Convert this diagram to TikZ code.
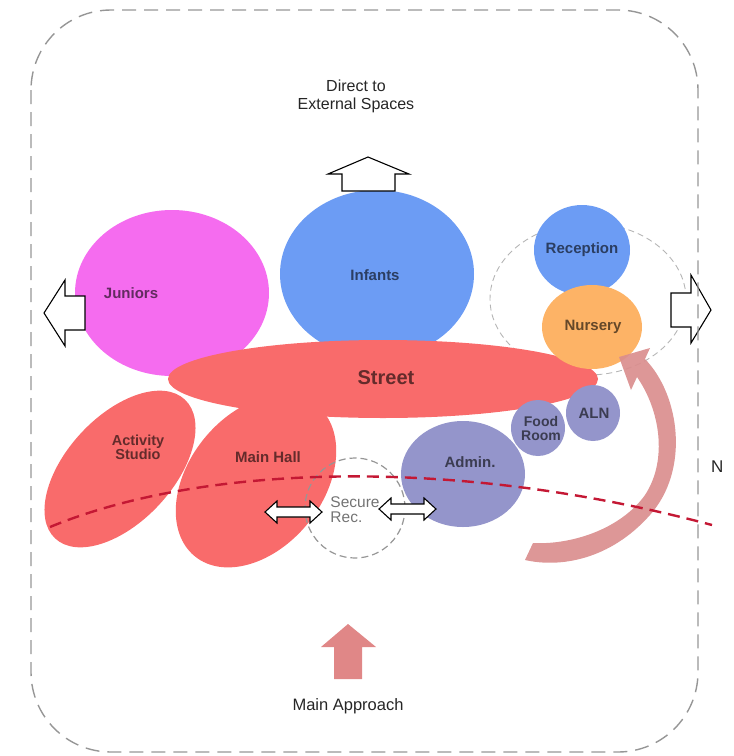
\documentclass[tikz,border=0pt]{standalone}
\usepackage{fontspec}
\setmainfont{Liberation Sans}
\usetikzlibrary{shapes.geometric}
\definecolor{cJun}{RGB}{245,108,239}
\definecolor{cInf}{RGB}{108,156,244}
\definecolor{cNur}{RGB}{253,179,102}
\definecolor{cRed}{RGB}{249,107,107}
\definecolor{cAdm}{RGB}{148,149,203}
\definecolor{cCres}{RGB}{218,142,142}
\definecolor{cAppr}{RGB}{224,135,135}
\definecolor{cDash}{RGB}{196,24,52}
\definecolor{cGray}{RGB}{150,150,150}
\begin{document}
\begin{tikzpicture}[x=1pt,y=-1pt,
  bubble/.style={ellipse, inner sep=0pt, draw=none},
  lbl/.style={font=\fontsize{15}{15}\selectfont\bfseries, align=center, inner sep=0pt},
  plain/.style={font=\fontsize{16}{18}\selectfont, align=center, inner sep=0pt, text=black!85},
  outline/.style={draw=black, fill=white, line width=1.1pt, line join=miter},
  ring/.style={draw=cGray, line width=1.2pt, dash pattern=on 7pt off 4pt},
]
\useasboundingbox (0,0) rectangle (734,756);

% bubbles
\node[bubble, fill=cJun, minimum width=194pt, minimum height=166pt] (jun) at (172,293) {};
\node[bubble, fill=cInf, minimum width=194pt, minimum height=168pt] (inf) at (377,274) {};
\node[ellipse, inner sep=0pt, draw=cGray!70, line width=0.9pt, dash pattern=on 6pt off 4pt,
      minimum width=196pt, minimum height=152pt] (nring) at (588,299) {};
\node[bubble, fill=cInf, minimum width=96pt, minimum height=90pt] (rec) at (582,250) {};
\node[bubble, fill=cRed, minimum width=430pt, minimum height=78pt] (str) at (383,379) {};
\node[bubble, fill=cNur, minimum width=100pt, minimum height=84pt] (nur) at (592,327) {};
\node[bubble, fill=cRed, minimum width=190pt, minimum height=106pt, rotate=47] (act) at (120,469) {};
\node[bubble, fill=cRed, minimum width=194pt, minimum height=134pt, rotate=51] (hall) at (256,481) {};
\node[bubble, fill=cAdm, minimum width=124pt, minimum height=106pt] (adm) at (463,474) {};
\node[bubble, fill=cAdm, minimum width=54pt, minimum height=56pt] (food) at (538,428) {};
\node[bubble, fill=cAdm, minimum width=54pt, minimum height=56pt] (aln) at (593,413) {};
\node[circle, inner sep=0pt, ring, minimum size=100pt] (sec) at (355,508) {};

% curved approach arrow
\fill[cCres, opacity=0.92] (619,357) -- (650,348) -- (645,359)
  .. controls (680,395) and (690,470) .. (650,515)
  .. controls (610,560) and (560,568) .. (525,560)
  -- (533,543)
  .. controls (570,545) and (620,530) .. (645,495)
  .. controls (668,460) and (660,410) .. (637,377)
  -- (631,390) -- cycle;

% red dashed line
\coordinate (dl) at (50,527);
\coordinate (dr) at (712,525);
\draw[cDash, line width=2.4pt, dash pattern=on 12pt off 7pt] (dl) .. controls (200,465) and (450,455) .. (dr);

% double arrows
\begin{scope}[shift={(265,512)}]
\draw[outline] (0,0) -- (12,-11) -- (12,-5) -- (45,-5) -- (45,-11) -- (57,0) -- (45,11) -- (45,5) -- (12,5) -- (12,11) -- cycle;
\end{scope}
\begin{scope}[shift={(379,509)}]
\draw[outline] (0,0) -- (12,-11) -- (12,-5) -- (45,-5) -- (45,-11) -- (57,0) -- (45,11) -- (45,5) -- (12,5) -- (12,11) -- cycle;
\end{scope}

% labels
\node[lbl, text=cJun!40!black] (junL) at (131,293) {Juniors};
\node[lbl, text=cInf!40!black] (infL) at (375,275) {Infants};
\node[lbl, text=cInf!40!black] (recL) at (582,250) {Reception};
\node[lbl, text=cNur!40!black] (nurL) at (593,327) {Nursery};
\node[lbl, text=cRed!40!black, font=\fontsize{20}{20}\selectfont\bfseries] (strL) at (386,378) {Street};
\node[lbl, text=cRed!40!black, font=\fontsize{14.5}{14}\selectfont\bfseries] (actL) at (138,447) {Activity\\Studio};
\node[lbl, text=cRed!40!black] (hallL) at (268,457) {Main Hall};
\node[lbl, text=cAdm!40!black] (admL) at (470,462) {Admin.};
\node[lbl, text=cAdm!40!black, font=\fontsize{14}{14}\selectfont\bfseries] (foodL) at (541,428) {Food\\Room};
\node[lbl, text=cAdm!40!black] (alnL) at (594,413) {ALN};
\node[align=left, inner sep=0pt, text=black!55, font=\fontsize{15.5}{15}\selectfont] (secL) at (355,510) {Secure\\Rec.};

% outline arrows
\draw[outline] (368,157) -- (409,174) -- (395,174) -- (395,191) -- (342,191) -- (342,174) -- (328,174) -- cycle;
\draw[outline] (44,313) -- (65,280) -- (65,296) -- (85,296) -- (85,330) -- (65,330) -- (65,346) -- cycle;
\draw[outline] (711,310) -- (691,275) -- (691,293) -- (671,293) -- (671,327) -- (691,327) -- (691,343) -- cycle;

% main approach arrow
\fill[cAppr] (348,624) -- (376,647) -- (362,647) -- (362,679) -- (334,679) -- (334,647) -- (321,647) -- cycle;

% texts
\node[plain] (direct) at (356,96) {Direct to\\External Spaces};
\node[plain, font=\fontsize{16.5}{18}\selectfont] (appr) at (348,706) {Main Approach};
\node[plain, anchor=west, font=\fontsize{17}{18}\selectfont] (nfrag) at (711,467) {N};

% outer frame
\draw[cGray, line width=1.4pt, dash pattern=on 14pt off 8pt, rounded corners=80pt] (31,10) rectangle (698,752);
\end{tikzpicture}
\end{document}
